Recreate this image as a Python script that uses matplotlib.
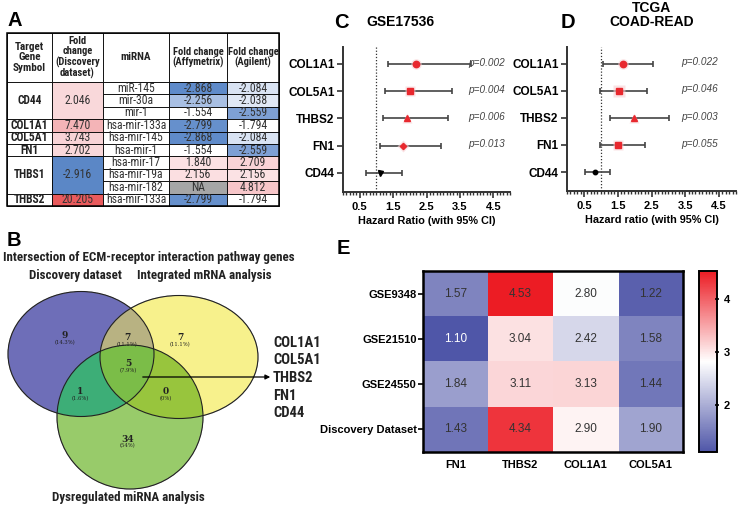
import numpy as np
import matplotlib
matplotlib.use("Agg")
import matplotlib.pyplot as plt
from matplotlib import font_manager as fm
from matplotlib.patches import Ellipse, Rectangle
from matplotlib.colors import LinearSegmentedColormap, to_rgb
from matplotlib.ticker import MultipleLocator, FixedLocator

# ---------------- data ----------------
# Panel A table
table_genes = ["CD44", "COL1A1", "COL5A1", "FN1", "THBS1", "THBS2"]
table_gene_fc = ["2.046", "7.470", "3.743", "2.702", "-2.916", "20.205"]
table_gene_span = [3, 1, 1, 1, 3, 1]
table_mirnas = ["miR-145", "mir-30a", "mir-1", "hsa-mir-133a", "hsa-mir-145",
                "hsa-mir-1", "hsa-mir-17", "hsa-mir-19a", "hsa-mir-182", "hsa-mir-133a"]
table_fc_affy = ["-2.868", "-2.256", "-1.554", "-2.799", "-2.868", "-1.554",
                 "1.840", "2.156", "NA", "-2.799"]
table_fc_agil = ["-2.084", "-2.038", "-2.559", "-1.794", "-2.084", "-2.559",
                 "2.709", "2.156", "4.812", "-1.794"]
table_headers = ["Target\nGene\nSymbol", "Fold\nchange\n(Discovery\ndataset)", "miRNA",
                 "Fold change\n(Affymetrix)", "Fold change\n(Agilent)"]

# Panel B Venn
venn_title = "Intersection of ECM-receptor interaction pathway genes"
venn_sets = ["Discovery dataset", "Integrated mRNA analysis", "Dysregulated miRNA analysis"]
venn_counts = {"D": ("9", "14.3%"), "DI": ("7", "11.1%"), "I": ("7", "11.1%"),
               "DIM": ("5", "7.9%"), "DM": ("1", "1.6%"), "IM": ("0", "0%"),
               "M": ("34", "54%")}
venn_genes = ["COL1A1", "COL5A1", "THBS2", "FN1", "CD44"]

# Panels C / D forest plots
forest_genes = ["COL1A1", "COL5A1", "THBS2", "FN1", "CD44"]
c_hr = [2.18, 2.00, 1.93, 1.80, 1.12]
c_lo = [1.35, 1.25, 1.20, 1.12, 0.70]
c_hi = [3.83, 3.27, 3.15, 2.92, 1.77]
c_p = ["p=0.002", "p=0.004", "p=0.006", "p=0.013", ""]
d_hr = [1.65, 1.54, 1.97, 1.52, 0.83]
d_lo = [1.06, 0.99, 1.28, 0.98, 0.52]
d_hi = [2.54, 2.37, 3.03, 2.32, 1.26]
d_p = ["p=0.022", "p=0.046", "p=0.003", "p=0.055", ""]

# Panel E heatmap
hm_rows = ["GSE9348", "GSE21510", "GSE24550", "Discovery Dataset"]
hm_cols = ["FN1", "THBS2", "COL1A1", "COL5A1"]
hm_vals = [[1.57, 4.53, 2.80, 1.22],
           [1.10, 3.04, 2.42, 1.58],
           [1.84, 3.11, 3.13, 1.44],
           [1.43, 4.34, 2.90, 1.90]]

# ---------------- styles ----------------
gene_cell_colors = ['#f9d8da', '#f4b4b7', '#f8d3d6', '#f9d8da', '#5b87c6', '#e95a5c']
affy_cell_colors = ['#5f8bca', '#a8bfe3', '#ffffff', '#6690cc', '#5f8bca', '#ffffff',
                    '#fbe1e3', '#fbdfe1', '#a6a6a6', '#6690cc']
agil_cell_colors = ['#d9e3f3', '#e0e8f5', '#7ea0d4', '#ffffff', '#d9e3f3', '#7ea0d4',
                    '#f9d3d6', '#fbe2e4', '#f7c6c9', '#ffffff']

names = {f.name for f in fm.fontManager.ttflist}
narrow_found = None
for cand in ['Liberation Sans Narrow', 'Roboto Condensed', 'Open Sans Condensed']:
    if cand in names:
        narrow_found = cand
        break
CAL = [narrow_found or 'Noto Sans', 'DejaVu Sans']
KS = 1.0 if narrow_found else 0.82   # size factor for narrow-font text
ARIAL = ['Liberation Sans', 'DejaVu Sans']

W, H = 738, 507
fig = plt.figure(figsize=(W / 100, H / 100), dpi=100)


def rect(x0, y0, x1, y1):
    return [x0 / W, 1 - y1 / H, (x1 - x0) / W, (y1 - y0) / H]


ov = fig.add_axes([0, 0, 1, 1])
ov.patch.set_alpha(0)
ov.axis('off')

# ---------------- Panel A ----------------
col_x = [7, 52, 103, 169, 227, 279]
top, hb = 33, 82
rh = (206 - hb) / len(table_mirnas)
hdr_sizes = [8.0, 7.6, 8.0, 7.6, 7.6]
for j, h in enumerate(table_headers):
    ov.add_patch(Rectangle((col_x[j], top), col_x[j + 1] - col_x[j], hb - top,
                           fc='white', ec='black', lw=0.6))
    ov.text((col_x[j] + col_x[j + 1]) / 2, (top + hb) / 2, h, ha='center', va='center',
            fontsize=hdr_sizes[j] * KS, fontweight='bold', family=CAL, linespacing=1.05,
            color='#222222')
r = 0
for g, fc, span, col in zip(table_genes, table_gene_fc, table_gene_span, gene_cell_colors):
    y0 = hb + r * rh
    ov.add_patch(Rectangle((col_x[0], y0), col_x[1] - col_x[0], span * rh, fc='white', ec='black', lw=0.6))
    ov.add_patch(Rectangle((col_x[1], y0), col_x[2] - col_x[1], span * rh, fc=col, ec='black', lw=0.6))
    ov.text((col_x[0] + col_x[1]) / 2, y0 + span * rh / 2, g, ha='center', va='center',
            fontsize=8.3 * KS, fontweight='bold', family=CAL, color='#222222')
    ov.text((col_x[1] + col_x[2]) / 2, y0 + span * rh / 2, fc, ha='center', va='center',
            fontsize=8.5 * KS, family=CAL, color='#333333')
    r += span
for i, (m, a, b) in enumerate(zip(table_mirnas, table_fc_affy, table_fc_agil)):
    y0 = hb + i * rh
    for j, (txt, c) in enumerate([(m, 'white'), (a, affy_cell_colors[i]), (b, agil_cell_colors[i])]):
        x0, x1 = col_x[2 + j], col_x[3 + j]
        ov.add_patch(Rectangle((x0, y0), x1 - x0, rh, fc=c, ec='black', lw=0.6))
        ov.text((x0 + x1) / 2, y0 + rh / 2, txt, ha='center', va='center',
                fontsize=8.5 * KS, family=CAL, color='#333333')
ov.add_patch(Rectangle((col_x[0], top), col_x[-1] - col_x[0], 206 - top, fc='none', ec='black', lw=1.1))

# ---------------- Panel B ----------------
eD = ((81, 354), 146, 125)
eI = ((179, 357), 158, 123)
eM = ((130, 417), 146, 144)
xs = np.arange(0, 270, 0.5) + 0.25
ys = np.arange(280, 500, 0.5) + 0.25
X, Y = np.meshgrid(xs, ys)


def inside(e):
    (cx, cy), w, h = e
    return ((X - cx) / (w / 2)) ** 2 + ((Y - cy) / (h / 2)) ** 2 <= 1


iD, iI, iM = inside(eD), inside(eI), inside(eM)
img = np.zeros(X.shape + (4,))
regions = [
    (iD & ~iI & ~iM, '#6e6fb8'), (iI & ~iD & ~iM, '#f8f28c'), (iM & ~iD & ~iI, '#98cb6a'),
    (iD & iI & ~iM, '#b9b282'), (iD & iM & ~iI, '#3eae78'), (iI & iM & ~iD, '#98c63e'),
    (iD & iI & iM, '#7cbe48')]
for mask, c in regions:
    img[mask, :3] = to_rgb(c)
    img[mask, 3] = 1
ov.imshow(img, extent=(0, 270, 500, 280), interpolation='bilinear', zorder=1)
for e in (eD, eI, eM):
    ov.add_patch(Ellipse(e[0], e[1], e[2], fc='none', ec='#222222', lw=0.8, zorder=2))

pos = {"D": (65, 338), "DI": (127, 340), "I": (180, 340), "DIM": (128, 366),
       "DM": (80, 394), "IM": (166, 394), "M": (128, 441)}
for k, (n, pct) in venn_counts.items():
    x, y = pos[k]
    ov.text(x, y - 2, n, ha='center', va='center', fontsize=6.5, fontweight='bold',
            family='DejaVu Serif', color='#222222', zorder=3)
    ov.text(x, y + 5, "(" + pct + ")", ha='center', va='center', fontsize=3.8,
            family='DejaVu Serif', color='#222222', zorder=3)
ov.annotate("", xy=(273, 377), xytext=(140, 377),
            arrowprops=dict(arrowstyle='-|>', color='black', lw=0.9, mutation_scale=7), zorder=3)
for i, g in enumerate(venn_genes):
    ov.text(273, 343 + i * 17.5, g, ha='left', va='center', fontsize=10.5 * KS, fontweight='bold',
            family=CAL, color='#222222')
for txt, x, y in [(venn_title, 149, 258), (venn_sets[0], 75, 276), (venn_sets[1], 204, 276),
                  (venn_sets[2], 128, 498)]:
    ov.text(x, y, txt, ha='center', va='center', fontsize=9.4 * KS, fontweight='bold',
            family=CAL, color='#222222')

# panel letters
for L, x, y in [("A", 15, 21), ("B", 14, 241), ("C", 341, 22), ("D", 568, 22), ("E", 343, 248)]:
    ov.text(x, y, L, ha='center', va='center', fontsize=14.5, fontweight='bold', family=ARIAL)

ov.set_xlim(0, W)
ov.set_ylim(H, 0)
ov.set_aspect('auto')


# ---------------- Panels C / D ----------------
def forest(box, hr, lo, hi, pv, markers, msizes, mcolors, xlabel, pvx):
    ax = fig.add_axes(rect(*box))
    yv = np.arange(len(forest_genes), 0, -1)
    for y, h, l, u, m, s, c in zip(yv, hr, lo, hi, markers, msizes, mcolors):
        ax.errorbar([h], [y], xerr=[[h - l], [u - h]], fmt='none', ecolor='#444444',
                    elinewidth=1.2, capsize=2.5, capthick=1.2, zorder=2)
        if c != 'black':
            ax.plot([h], [y], marker=m, ms=s + 3, color='#f8d0d2', mec='none', alpha=0.6, zorder=3)
        ax.plot([h], [y], marker=m, ms=s, color=c, mec=c, zorder=4)
    for y, p in zip(yv, pv):
        if p:
            ax.text(pvx, y + 0.05, p, ha='center', va='center', fontsize=7.2, style='italic',
                    color='#444444', family=ARIAL)
    ax.axvline(1.0, color='#333333', ls=(0, (1, 1.5)), lw=0.9, zorder=1)
    ax.set_xlim(0, 5)
    ax.set_ylim(0.30, 5.62)
    ax.set_yticks(yv)
    ax.set_yticklabels(forest_genes, fontsize=8.5, fontweight='bold', family=ARIAL)
    ax.xaxis.set_major_locator(FixedLocator([0.5, 1.5, 2.5, 3.5, 4.5]))
    ax.xaxis.set_minor_locator(MultipleLocator(0.1))
    ax.set_xticklabels(["0.5", "1.5", "2.5", "3.5", "4.5"], fontsize=8, fontweight='bold', family=ARIAL)
    ax.tick_params(axis='x', which='major', length=4, width=1.2, color='#333333', pad=3)
    ax.tick_params(axis='x', which='minor', length=2.5, width=1.0, color='#333333')
    ax.tick_params(axis='y', length=4, width=1.2, color='#333333', pad=2)
    for s in ('top', 'right'):
        ax.spines[s].set_visible(False)
    for s in ('left', 'bottom'):
        ax.spines[s].set_linewidth(1.4)
        ax.spines[s].set_color('#333333')
    ax.set_xlabel(xlabel, fontsize=7.8, fontweight='bold', family=ARIAL, labelpad=3)
    ax.patch.set_alpha(0)
    return ax


red = '#e8282e'
axC = forest((343, 47, 510, 192), c_hr, c_lo, c_hi, c_p,
             ['o', 's', '^', 'D', 'v'], [4.6, 4.6, 4.2, 3.2, 3.6], [red, red, red, red, 'black'],
             "Hazard Ratio (with 95% CI)", 4.3)
fig.text(400 / W, 1 - 22 / H, "GSE17536", ha='center', va='center', fontsize=10,
         fontweight='bold', family=ARIAL)
axD = forest((567, 47, 736, 191), d_hr, d_lo, d_hi, d_p,
             ['o', 's', '^', 's', 'o'], [4.6, 5.0, 4.2, 3.8, 3.2], [red, red, red, red, 'black'],
             "Hazard ratio (with 95% CI)", 3.93)
fig.text(652 / W, 1 - 15 / H, "TCGA\nCOAD-READ", ha='center', va='center', fontsize=10,
         fontweight='bold', family=ARIAL, linespacing=1.0)

# ---------------- Panel E ----------------
cmap = LinearSegmentedColormap.from_list('bwr_e', ['#4f56a8', '#ffffff', '#ec1c24'])
vals = np.array(hm_vals)
vmin, vmax = vals.min(), vals.max()
axE = fig.add_axes(rect(423, 271, 683, 452))
im = axE.imshow(vals, cmap=cmap, vmin=vmin, vmax=vmax, aspect='auto', interpolation='nearest')
for i in range(vals.shape[0]):
    for j in range(vals.shape[1]):
        v = vals[i, j]
        axE.text(j, i, f"{v:.2f}", ha='center', va='center', fontsize=8.5, family=ARIAL,
                 color='white' if v < 1.15 else '#333333')
axE.set_xticks(range(len(hm_cols)))
axE.set_xticklabels(hm_cols, fontsize=8, fontweight='bold', family=ARIAL)
axE.set_yticks(range(len(hm_rows)))
axE.set_yticklabels(hm_rows, fontsize=8, fontweight='bold', family=ARIAL)
axE.tick_params(axis='x', length=0, pad=6)
axE.tick_params(axis='y', length=3.5, width=1.2, pad=1)
for s in axE.spines.values():
    s.set_linewidth(1.8)

cax = fig.add_axes(rect(699, 271, 717, 452))
cb = fig.colorbar(im, cax=cax)
cb.set_ticks([2, 3, 4])
cb.ax.set_yticklabels(["2", "3", "4"], fontsize=8, fontweight='bold', family=ARIAL)
cb.ax.tick_params(length=3.5, width=1.2, direction='inout', pad=3)
cb.outline.set_linewidth(1.4)

fig.savefig("out.png", dpi=100)
